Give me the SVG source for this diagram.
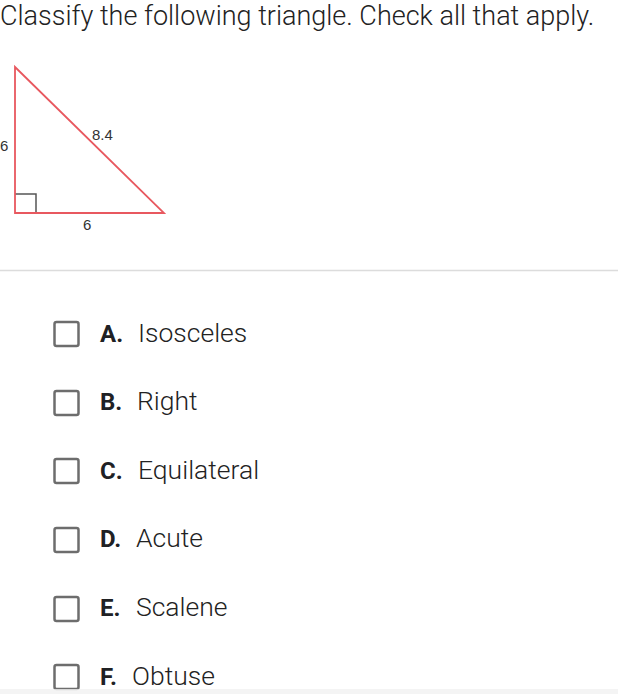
<svg xmlns="http://www.w3.org/2000/svg" width="618" height="694" viewBox="0 0 618 694">
<style>
.t{font-family:Roboto,"Liberation Sans",sans-serif;fill:#222;font-weight:300}
.title{font-size:27px}
.opt{font-size:26.5px}
.lab{font-family:Roboto,"Liberation Sans",sans-serif;font-weight:bold;font-size:24px;fill:#202124}
.box{fill:#fff;stroke:#6d6d6d;stroke-width:2.5}
.small{font-family:Arial,"Liberation Sans",sans-serif;font-size:15px;fill:#333}
</style>
<rect width="618" height="694" fill="#fff"/>
<text class="t title" x="0" y="25">Classify the following triangle. Check all that apply.</text>
<g id="triangle">
<polyline points="15,194 36,194 36,213" fill="none" stroke="#555" stroke-width="1.5"/>
<polygon points="15,67 15,213 164,213" fill="none" stroke="#e8585f" stroke-width="1.8"/>
<text class="small" x="0" y="151">6</text>
<text class="small" x="92" y="140">8.4</text>
<text class="small" x="83" y="230">6</text>
</g>
<line x1="0" y1="270.5" x2="618" y2="270.5" stroke="#dcdcdc" stroke-width="1.5"/>
<g id="optA"><rect class="box" x="54.5" y="322" width="24" height="24" rx="2"/><text class="lab" x="100" y="342">A.</text><text class="t opt" x="138" y="342">Isosceles</text></g>
<g id="optB"><rect class="box" x="54.5" y="391" width="24" height="24" rx="2"/><text class="lab" x="100" y="410">B.</text><text class="t opt" x="137" y="410">Right</text></g>
<g id="optC"><rect class="box" x="54.5" y="459" width="24" height="24" rx="2"/><text class="lab" x="100" y="479">C.</text><text class="t opt" x="138" y="479">Equilateral</text></g>
<g id="optD"><rect class="box" x="54.5" y="528" width="24" height="24" rx="2"/><text class="lab" x="100" y="547">D.</text><text class="t opt" x="136" y="547">Acute</text></g>
<g id="optE"><rect class="box" x="54.5" y="597" width="24" height="24" rx="2"/><text class="lab" x="100" y="616">E.</text><text class="t opt" x="136" y="616">Scalene</text></g>
<g id="optF"><rect class="box" x="54.5" y="665" width="24" height="24" rx="2"/><text class="lab" x="100" y="685">F.</text><text class="t opt" x="132" y="685">Obtuse</text></g>
<rect x="0" y="689" width="618" height="5" fill="#f1f1f1" opacity="0.8"/>
</svg>
